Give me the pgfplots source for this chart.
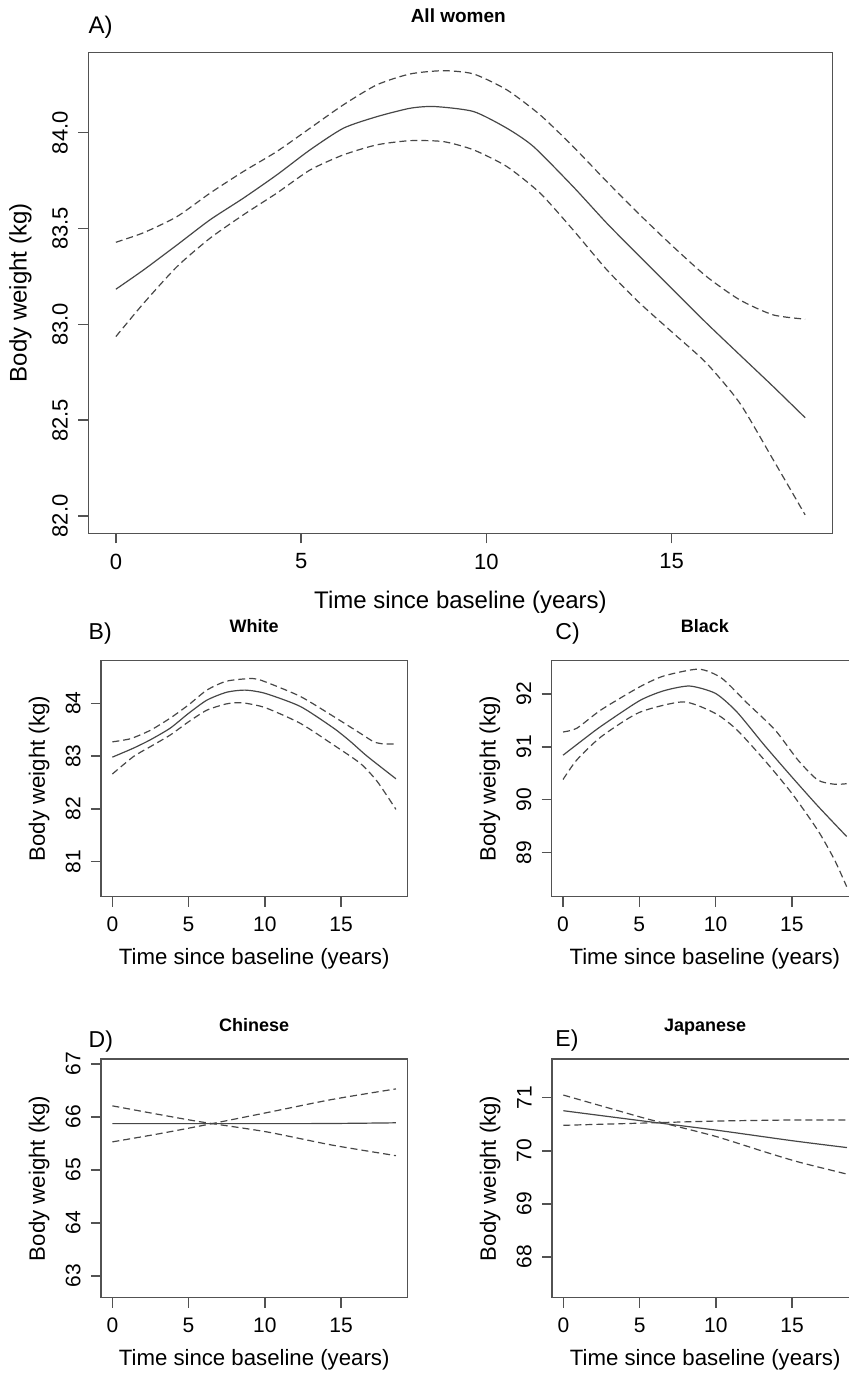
\documentclass[border=0pt]{standalone}
\usepackage{fontspec}
\setmainfont{Liberation Sans}
\usepackage{pgfplots}
\pgfplotsset{compat=1.18}

\definecolor{rline}{gray}{0.28}
\definecolor{rbox}{gray}{0.32}

\pgfplotsset{
  rpanel/.style={
    scale only axis,
    anchor=south west,
    xmin=-0.744, xmax=19.344,
    xtick={0,5,10,15},
    tick align=outside,
    major tick length=5pt,
    axis line style={rbox, line width=0.75pt},
    tick style={rbox, line width=0.75pt},
    xtick pos=bottom, ytick pos=left,
    /pgf/number format/assume math mode=true,
    yticklabel style={rotate=90, anchor=south, inner sep=0pt},
    xticklabel style={anchor=north, inner sep=0pt},
    xticklabel shift=5pt, yticklabel shift=5pt,
    xlabel={Time since baseline (years)},
    ylabel={Body weight (kg)},
    every axis y label/.style={rotate=90, anchor=base},
    every axis x label/.style={anchor=base},
    every axis title/.style={anchor=base},
  },
  small/.style={
    rpanel,
    width=153.15pt,
    tick label style={font=\fontsize{10.5}{12}\selectfont},
    label style={font=\fontsize{11.1}{13}\selectfont},
    title style={font=\bfseries\fontsize{9}{11}\selectfont},
  },
  est/.style={rline, line width=0.6pt, smooth, tension=0.4},
  ci/.style={rline, line width=0.6pt, dash pattern=on 3.5pt off 2pt, smooth, tension=0.4},
}

\begin{document}
\begin{tikzpicture}

% A) All women
\begin{axis}[rpanel,
  at={(44.15pt,420.35pt)},
  width=372.2pt, height=240.5pt,
  ymin=81.91, ymax=84.419,
  ytick={82,82.5,83,83.5,84},
  yticklabel style={/pgf/number format/fixed, /pgf/number format/fixed zerofill, /pgf/number format/precision=1},
  tick label style={font=\fontsize{11}{13}\selectfont},
  label style={font=\fontsize{12}{14}\selectfont},
  xlabel style={at={(axis description cs:0.5,-0.156)}},
  ylabel style={at={(axis description cs:-0.0828,0.5)}},
  title={All women},
  title style={at={(axis description cs:0.497,1.0615)}, font=\bfseries\fontsize{9.5}{11}\selectfont},
]
\addplot[est] coordinates {(0,83.183) (0.75,83.284) (1.65,83.414) (2.54,83.545) (3.44,83.658) (4.34,83.779) (5.24,83.91) (6.14,84.023) (7.04,84.083) (7.94,84.127) (8.6,84.136) (9.65,84.11) (10.55,84.023) (11.27,83.927) (12.34,83.718) (13.25,83.527) (14.14,83.353) (15.04,83.179) (15.94,83.006) (16.84,82.84) (17.74,82.675) (18.6,82.513)};
\addplot[ci] coordinates {(0,83.428) (0.75,83.478) (1.65,83.562) (2.54,83.684) (3.44,83.797) (4.34,83.901) (5.24,84.023) (6.14,84.145) (7.04,84.249) (7.94,84.306) (8.84,84.323) (9.65,84.306) (10.55,84.223) (11.45,84.092) (12.34,83.927) (13.25,83.744) (14.14,83.571) (15.04,83.405) (15.94,83.249) (16.84,83.127) (17.74,83.049) (18.6,83.027)};
\addplot[ci] coordinates {(0,82.936) (0.75,83.11) (1.65,83.301) (2.54,83.449) (3.44,83.571) (4.34,83.684) (5.24,83.805) (6.14,83.884) (7.04,83.936) (7.94,83.958) (8.84,83.953) (9.65,83.91) (10.55,83.823) (11.45,83.684) (12.34,83.492) (13.25,83.284) (14.14,83.11) (15.04,82.954) (15.94,82.797) (16.84,82.588) (17.74,82.293) (18.6,82.006)};
\end{axis}

% B) White
\begin{axis}[small,
  at={(50.5pt,238.65pt)}, height=118pt,
  ymin=80.337, ymax=84.807,
  ytick={81,82,83,84},
  xlabel style={at={(axis description cs:0.5,-0.288)}},
  ylabel style={at={(axis description cs:-0.183,0.5)}},
  title={White},
  title style={at={(axis description cs:0.5,1.12)}},
]
\addplot[est] coordinates {(0,82.98) (1.38,83.15) (2.5,83.31) (3.8,83.53) (5,83.81) (6.2,84.06) (7.5,84.21) (8.7,84.25) (10,84.19) (12.33,83.94) (14.51,83.53) (15.6,83.28) (16.7,83.0) (18.6,82.57)};
\addplot[ci] coordinates {(0,83.27) (1.2,83.33) (2.5,83.49) (3.8,83.72) (5,83.97) (6.2,84.25) (7.5,84.42) (9.2,84.47) (10,84.41) (12.33,84.13) (14.51,83.75) (16.27,83.43) (17.15,83.27) (17.8,83.23) (18.6,83.23)};
\addplot[ci] coordinates {(0,82.66) (1.38,82.99) (2.5,83.18) (3.8,83.40) (5,83.65) (6.2,83.87) (7.5,83.99) (8.5,84.01) (10,83.92) (12.33,83.62) (14.51,83.21) (16.27,82.86) (17.37,82.52) (18.6,81.99)};
\end{axis}

% C) Black
\begin{axis}[small,
  at={(275.85pt,238.65pt)}, height=118pt,
  ymin=88.16, ymax=92.63,
  ytick={89,90,91,92},
  xlabel style={at={(axis description cs:0.5,-0.288)}},
  ylabel style={at={(axis description cs:-0.183,0.5)}},
  title={Black},
  title style={at={(axis description cs:0.5,1.12)}},
]
\addplot[est] coordinates {(0,90.84) (1.3,91.13) (2.5,91.39) (5,91.87) (6.6,92.06) (8.3,92.15) (10,92.01) (11.4,91.66) (13.2,91.03) (15,90.43) (16.7,89.88) (18.6,89.30)};
\addplot[ci] coordinates {(0,91.28) (0.9,91.35) (2.5,91.70) (5,92.13) (6.6,92.34) (8.9,92.47) (10.4,92.30) (12.1,91.82) (13.9,91.32) (15.4,90.75) (16.7,90.37) (17.8,90.29) (18.6,90.30)};
\addplot[ci] coordinates {(0,90.38) (0.9,90.75) (2.5,91.19) (5,91.65) (7.9,91.85) (10,91.63) (11.4,91.32) (13.2,90.75) (15,90.12) (16.7,89.42) (17.8,88.86) (18.6,88.35)};
\end{axis}

% D) Chinese
\begin{axis}[small,
  at={(50.5pt,38.15pt)}, height=119.35pt,
  ymin=62.59, ymax=67.094,
  ytick={63,64,65,66,67},
  xlabel style={at={(axis description cs:0.5,-0.285)}},
  ylabel style={at={(axis description cs:-0.183,0.5)}},
  title={Chinese},
  title style={at={(axis description cs:0.5,1.114)}},
]
\addplot[est] coordinates {(0,65.875) (13,65.875) (18.6,65.89)};
\addplot[ci] coordinates {(0,66.21) (3,66.05) (5.75,65.91) (10.1,65.72) (14.4,65.47) (18.6,65.27)};
\addplot[ci] coordinates {(0,65.53) (3,65.68) (5.75,65.83) (10.1,66.08) (14.4,66.33) (18.6,66.53)};
\end{axis}

% E) Japanese
\begin{axis}[small,
  at={(276pt,38.15pt)}, height=119.35pt,
  ymin=67.23, ymax=71.73,
  ytick={68,69,70,71},
  xlabel style={at={(axis description cs:0.5,-0.285)}},
  ylabel style={at={(axis description cs:-0.183,0.5)}},
  title={Japanese},
  title style={at={(axis description cs:0.5,1.114)}},
]
\addplot[est] coordinates {(0,70.755) (5,70.57) (10,70.39) (15,70.19) (18.6,70.06)};
\addplot[ci] coordinates {(0,71.05) (5,70.64) (6.6,70.52) (10,70.27) (13.2,69.98) (15.4,69.79) (18.6,69.56)};
\addplot[ci] coordinates {(0,70.48) (5,70.52) (10,70.56) (15,70.58) (18.6,70.58)};
\end{axis}

% panel letters
\node[anchor=base west, inner sep=0pt, font=\fontsize{12}{14}\selectfont] at (44.15pt,670.35pt) {A)};
\node[anchor=base west, inner sep=0pt, font=\fontsize{11.5}{14}\selectfont] at (44.15pt,367pt) {B)};
\node[anchor=base west, inner sep=0pt, font=\fontsize{11.5}{14}\selectfont] at (277.5pt,367pt) {C)};
\node[anchor=base west, inner sep=0pt, font=\fontsize{11.5}{14}\selectfont] at (44.15pt,163pt) {D)};
\node[anchor=base west, inner sep=0pt, font=\fontsize{11.5}{14}\selectfont] at (277.5pt,163.5pt) {E)};

\pgfresetboundingbox
\path[use as bounding box] (0pt,0pt) rectangle (424.5pt,687pt);
\end{tikzpicture}
\end{document}
